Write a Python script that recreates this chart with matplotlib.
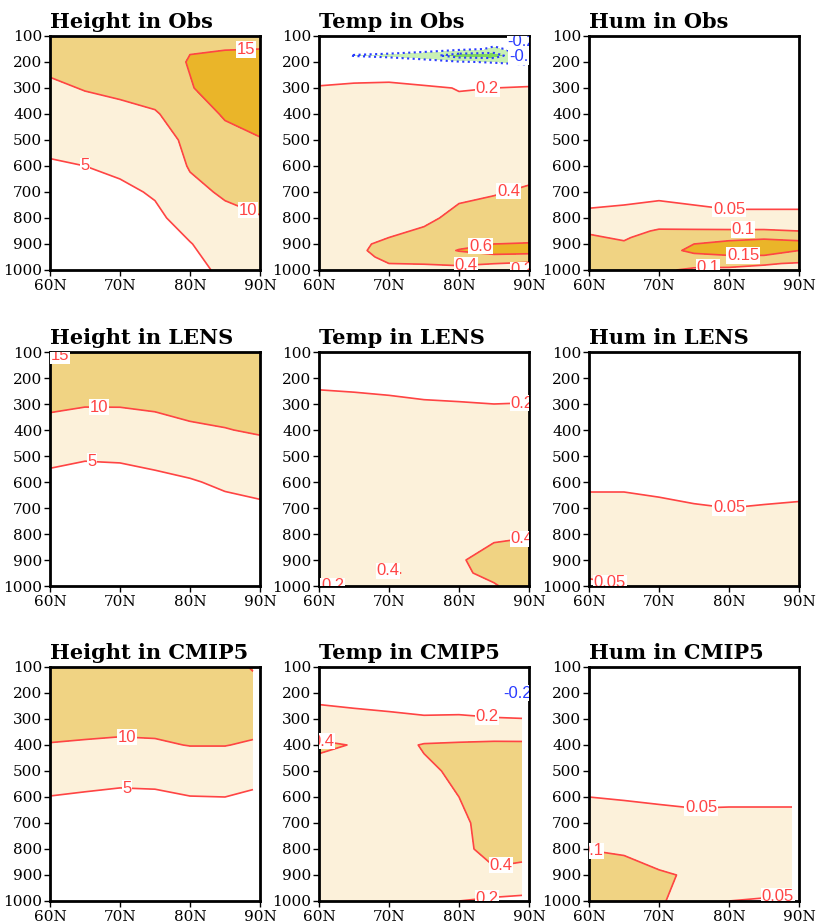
import numpy as np
import matplotlib
matplotlib.use("Agg")
import matplotlib.pyplot as plt

# latitude columns
lat_obs = [60, 65, 70, 75, 80, 85, 90]
lat_cmip = [60, 65, 70, 75, 80, 85, 89]

# pressure rows (hPa)
lev_10 = [100, 200, 300, 400, 500, 600, 700, 800, 900, 1000]
lev_tobs = [100, 150, 175, 200, 250, 300, 500, 700, 800, 850, 900, 925, 950, 1000]
lev_hobs = [100, 700, 750, 800, 850, 875, 900, 925, 950, 975, 1000]
lev_tlens = [100, 200, 300, 500, 700, 800, 900, 950, 1000]
lev_hum = [100, 500, 600, 700, 800, 900, 1000]

height_obs = [
    [12.0, 12.5, 13.0, 14.0, 14.5, 13.8, 13.5],
    [11.0, 11.5, 12.5, 13.5, 15.2, 16.0, 16.5],
    [9.3, 10.2, 10.8, 12.0, 14.8, 16.5, 17.0],
    [8.0, 8.5, 9.0, 9.6, 12.5, 15.5, 16.5],
    [6.0, 7.0, 7.5, 8.0, 11.0, 13.5, 14.8],
    [4.6, 5.0, 6.0, 7.0, 10.3, 12.0, 13.0],
    [3.5, 4.0, 4.0, 5.5, 9.0, 10.5, 11.5],
    [2.5, 3.0, 3.0, 4.0, 7.0, 9.0, 9.8],
    [1.5, 2.0, 2.2, 3.0, 4.8, 7.5, 8.5],
    [0.5, 1.0, 1.5, 2.0, 3.5, 6.0, 7.5],
]

temp_obs = [
    [0.0, 0.0, 0.0, 0.0, -0.05, -0.12, -0.3],
    [0.05, 0.0, -0.05, -0.1, -0.15, -0.22, -0.15],
    [0.0, -0.22, -0.26, -0.32, -0.5, -0.52, -0.1],
    [0.05, 0.02, -0.05, -0.12, -0.18, -0.22, -0.28],
    [0.15, 0.15, 0.15, 0.12, 0.1, 0.12, 0.12],
    [0.21, 0.23, 0.24, 0.22, 0.195, 0.2, 0.21],
    [0.25, 0.27, 0.28, 0.28, 0.27, 0.27, 0.27],
    [0.28, 0.3, 0.3, 0.32, 0.36, 0.39, 0.42],
    [0.3, 0.32, 0.34, 0.36, 0.45, 0.46, 0.47],
    [0.32, 0.34, 0.37, 0.42, 0.48, 0.5, 0.5],
    [0.35, 0.37, 0.43, 0.46, 0.55, 0.6, 0.61],
    [0.36, 0.37, 0.45, 0.5, 0.61, 0.66, 0.65],
    [0.35, 0.37, 0.42, 0.45, 0.52, 0.56, 0.55],
    [0.33, 0.36, 0.38, 0.36, 0.34, 0.25, 0.18],
]

hum_obs = [
    [0.0, 0.0, 0.0, 0.0, 0.0, 0.0, 0.0],
    [0.03, 0.035, 0.04, 0.035, 0.03, 0.03, 0.03],
    [0.045, 0.05, 0.055, 0.05, 0.045, 0.045, 0.045],
    [0.065, 0.065, 0.07, 0.065, 0.06, 0.06, 0.06],
    [0.095, 0.085, 0.105, 0.105, 0.105, 0.105, 0.1],
    [0.105, 0.095, 0.12, 0.13, 0.14, 0.145, 0.14],
    [0.11, 0.105, 0.13, 0.15, 0.16, 0.165, 0.16],
    [0.11, 0.11, 0.135, 0.158, 0.165, 0.165, 0.15],
    [0.11, 0.11, 0.12, 0.14, 0.145, 0.145, 0.135],
    [0.11, 0.11, 0.11, 0.11, 0.115, 0.105, 0.095],
    [0.11, 0.11, 0.105, 0.095, 0.09, 0.085, 0.08],
]

height_lens = [
    [15.8, 14.5, 14.0, 13.8, 13.5, 13.3, 13.0],
    [13.0, 12.5, 12.5, 12.5, 12.3, 12.3, 12.3],
    [10.7, 10.2, 10.2, 10.3, 10.8, 11.0, 11.3],
    [8.6, 8.5, 8.6, 9.3, 9.6, 9.9, 10.3],
    [5.9, 5.3, 5.4, 5.6, 6.2, 7.0, 8.8],
    [4.0, 3.8, 3.9, 4.5, 4.8, 5.4, 5.6],
    [3.0, 2.8, 2.8, 3.2, 3.6, 4.3, 4.7],
    [2.0, 2.0, 2.0, 2.3, 2.7, 3.2, 3.6],
    [1.5, 1.4, 1.4, 1.6, 1.9, 2.3, 2.6],
    [1.0, 1.0, 1.0, 1.1, 1.3, 1.6, 1.8],
]

temp_lens = [
    [0.05, 0.05, 0.05, 0.05, 0.05, 0.05, 0.05],
    [0.15, 0.14, 0.12, 0.1, 0.1, 0.1, 0.1],
    [0.26, 0.25, 0.24, 0.22, 0.21, 0.2, 0.205],
    [0.28, 0.28, 0.28, 0.28, 0.29, 0.3, 0.3],
    [0.3, 0.3, 0.3, 0.31, 0.33, 0.35, 0.37],
    [0.31, 0.31, 0.32, 0.33, 0.35, 0.38, 0.39],
    [0.32, 0.34, 0.36, 0.37, 0.39, 0.44, 0.46],
    [0.28, 0.35, 0.41, 0.38, 0.38, 0.43, 0.47],
    [0.15, 0.28, 0.35, 0.35, 0.35, 0.39, 0.46],
]

hum_lens = [
    [0.0, 0.0, 0.0, 0.0, 0.0, 0.0, 0.0],
    [0.03, 0.03, 0.03, 0.03, 0.03, 0.03, 0.03],
    [0.045, 0.045, 0.043, 0.04, 0.035, 0.037, 0.038],
    [0.058, 0.058, 0.055, 0.052, 0.05, 0.052, 0.054],
    [0.065, 0.065, 0.063, 0.06, 0.06, 0.06, 0.062],
    [0.07, 0.07, 0.068, 0.066, 0.065, 0.066, 0.068],
    [0.042, 0.05, 0.065, 0.065, 0.065, 0.066, 0.068],
]

height_cmip = [
    [14.0, 14.0, 13.8, 13.6, 13.5, 13.5, 15.3],
    [14.8, 14.0, 13.5, 13.3, 13.0, 13.2, 13.5],
    [12.0, 11.5, 11.3, 11.2, 11.5, 11.8, 11.5],
    [9.8, 9.6, 9.4, 9.6, 10.1, 10.1, 9.6],
    [7.5, 6.6, 6.3, 6.4, 7.6, 7.6, 6.5],
    [4.9, 4.6, 4.3, 4.4, 4.9, 5.0, 4.4],
    [3.5, 3.4, 3.2, 3.2, 3.6, 3.8, 3.4],
    [2.5, 2.4, 2.3, 2.3, 2.6, 2.8, 2.5],
    [1.8, 1.7, 1.6, 1.6, 1.8, 2.0, 1.8],
    [1.2, 1.1, 1.0, 1.0, 1.2, 1.3, 1.2],
]

temp_cmip = [
    [0.05, 0.05, 0.05, 0.05, 0.05, 0.0, -0.05],
    [0.12, 0.1, 0.1, 0.08, 0.05, -0.1, -0.22],
    [0.3, 0.27, 0.24, 0.22, 0.23, 0.22, 0.21],
    [0.42, 0.395, 0.35, 0.41, 0.42, 0.43, 0.43],
    [0.36, 0.34, 0.33, 0.38, 0.42, 0.45, 0.45],
    [0.33, 0.33, 0.33, 0.36, 0.4, 0.45, 0.44],
    [0.32, 0.32, 0.33, 0.35, 0.38, 0.44, 0.42],
    [0.32, 0.32, 0.33, 0.34, 0.37, 0.44, 0.42],
    [0.3, 0.3, 0.3, 0.3, 0.31, 0.38, 0.38],
    [0.26, 0.26, 0.25, 0.23, 0.2, 0.17, 0.15],
]

hum_cmip = [
    [0.0, 0.0, 0.0, 0.0, 0.0, 0.0, 0.0],
    [0.035, 0.035, 0.035, 0.033, 0.033, 0.033, 0.033],
    [0.05, 0.048, 0.046, 0.044, 0.045, 0.045, 0.045],
    [0.065, 0.063, 0.06, 0.058, 0.058, 0.058, 0.058],
    [0.099, 0.095, 0.08, 0.07, 0.065, 0.062, 0.062],
    [0.12, 0.115, 0.105, 0.095, 0.07, 0.065, 0.062],
    [0.125, 0.12, 0.105, 0.08, 0.05, 0.048, 0.046],
]

CREAM = "#fcf1da"
TAN = "#f0d383"
GOLD = "#eab529"
LGREEN = "#c9f0b4"
GREEN = "#7fd95a"
RED = "#ff4444"
BLUE = "#2a3cff"

styles = {
    "height": dict(fill=[-100, 5, 10, 15, 100], colors=["white", CREAM, TAN, GOLD],
                   pos=[5, 10, 15], neg=[]),
    "temp": dict(fill=[-10, -0.4, -0.2, 0.2, 0.4, 0.6, 10],
                 colors=[GREEN, LGREEN, "white", CREAM, TAN, GOLD],
                 pos=[0.2, 0.4, 0.6], neg=[-0.4, -0.2]),
    "hum": dict(fill=[-1, 0.05, 0.1, 0.15, 1], colors=["white", CREAM, TAN, GOLD],
                pos=[0.05, 0.1, 0.15], neg=[]),
}

# (title, kind, lats, levs, values, red label spots, blue label spots)
panels = [
    ("Height in Obs", "height", lat_obs, lev_10, height_obs,
     [(88, 160), (88, 790), (65, 600)], []),
    ("Temp in Obs", "temp", lat_obs, lev_tobs, temp_obs,
     [(84, 290), (87, 690), (83, 895), (81, 975), (89, 995)], [(89, 118), (89, 192)]),
    ("Hum in Obs", "hum", lat_obs, lev_hobs, hum_obs,
     [(80, 785), (82, 830), (82, 940), (77, 995)], []),
    ("Height in LENS", "height", lat_obs, lev_10, height_lens,
     [(61.5, 118), (67, 310), (66, 525)], []),
    ("Temp in LENS", "temp", lat_obs, lev_tlens, temp_lens,
     [(89, 295), (89, 815), (70, 948), (63, 985)], []),
    ("Hum in LENS", "hum", lat_obs, lev_hum, hum_lens,
     [(80, 700), (63, 985)], []),
    ("Height in CMIP5", "height", lat_cmip, lev_10, height_cmip,
     [(71, 365), (71, 565)], []),
    ("Temp in CMIP5", "temp", lat_cmip, lev_10, temp_cmip,
     [(84, 283), (60.5, 395), (86, 870), (84, 993)], [(88, 205)]),
    ("Hum in CMIP5", "hum", lat_cmip, lev_hum, hum_cmip,
     [(76, 635), (60.5, 800), (87, 990)], []),
]

fig = plt.figure(figsize=(8.17, 9.23), dpi=100)

lefts = [50, 319, 589]
tops = [36, 352, 667]
W, H = 210, 234

for i, (title, kind, lats, levs, vals, red_at, blue_at) in enumerate(panels):
    r, c = divmod(i, 3)
    ax = fig.add_axes([lefts[c] / 817, 1 - (tops[r] + H) / 923, W / 817, H / 923])
    st = styles[kind]
    X, Y = np.meshgrid(lats, levs)
    Z = np.array(vals)
    ax.contourf(X, Y, Z, levels=st["fill"], colors=st["colors"])
    cs = ax.contour(X, Y, Z, levels=st["pos"], colors=RED, linewidths=1.2)
    labs = ax.clabel(cs, manual=red_at, fmt="%g", inline=False, fontsize=12)
    if st["neg"]:
        cn = ax.contour(X, Y, Z, levels=st["neg"], colors=BLUE, linewidths=1.5,
                        linestyles=":")
        if blue_at:
            labs += ax.clabel(cn, manual=blue_at, fmt="%g", inline=False, fontsize=12)
    for t in labs:
        t.set_rotation(0)
        t.set_family("Liberation Sans")
        t.set_bbox(dict(facecolor="white", edgecolor="none", pad=0.5))

    ax.set_xlim(60, 90)
    ax.set_ylim(1000, 100)
    ax.set_xticks([60, 70, 80, 90])
    ax.set_xticklabels(["60N", "70N", "80N", "90N"])
    ax.set_yticks(range(100, 1001, 100))
    for lab in ax.get_xticklabels() + ax.get_yticklabels():
        lab.set_family("DejaVu Serif")
        lab.set_fontsize(11)
    ax.tick_params(direction="out", length=4, width=1)
    ax.tick_params(axis="y", pad=1.5)
    ax.tick_params(axis="x", pad=2.5)
    for sp in ax.spines.values():
        sp.set_linewidth(2)
    ax.set_title(title, loc="left", family="DejaVu Serif", fontweight="bold",
                 fontsize=15, pad=6)

fig.savefig("out.png", dpi=100)
